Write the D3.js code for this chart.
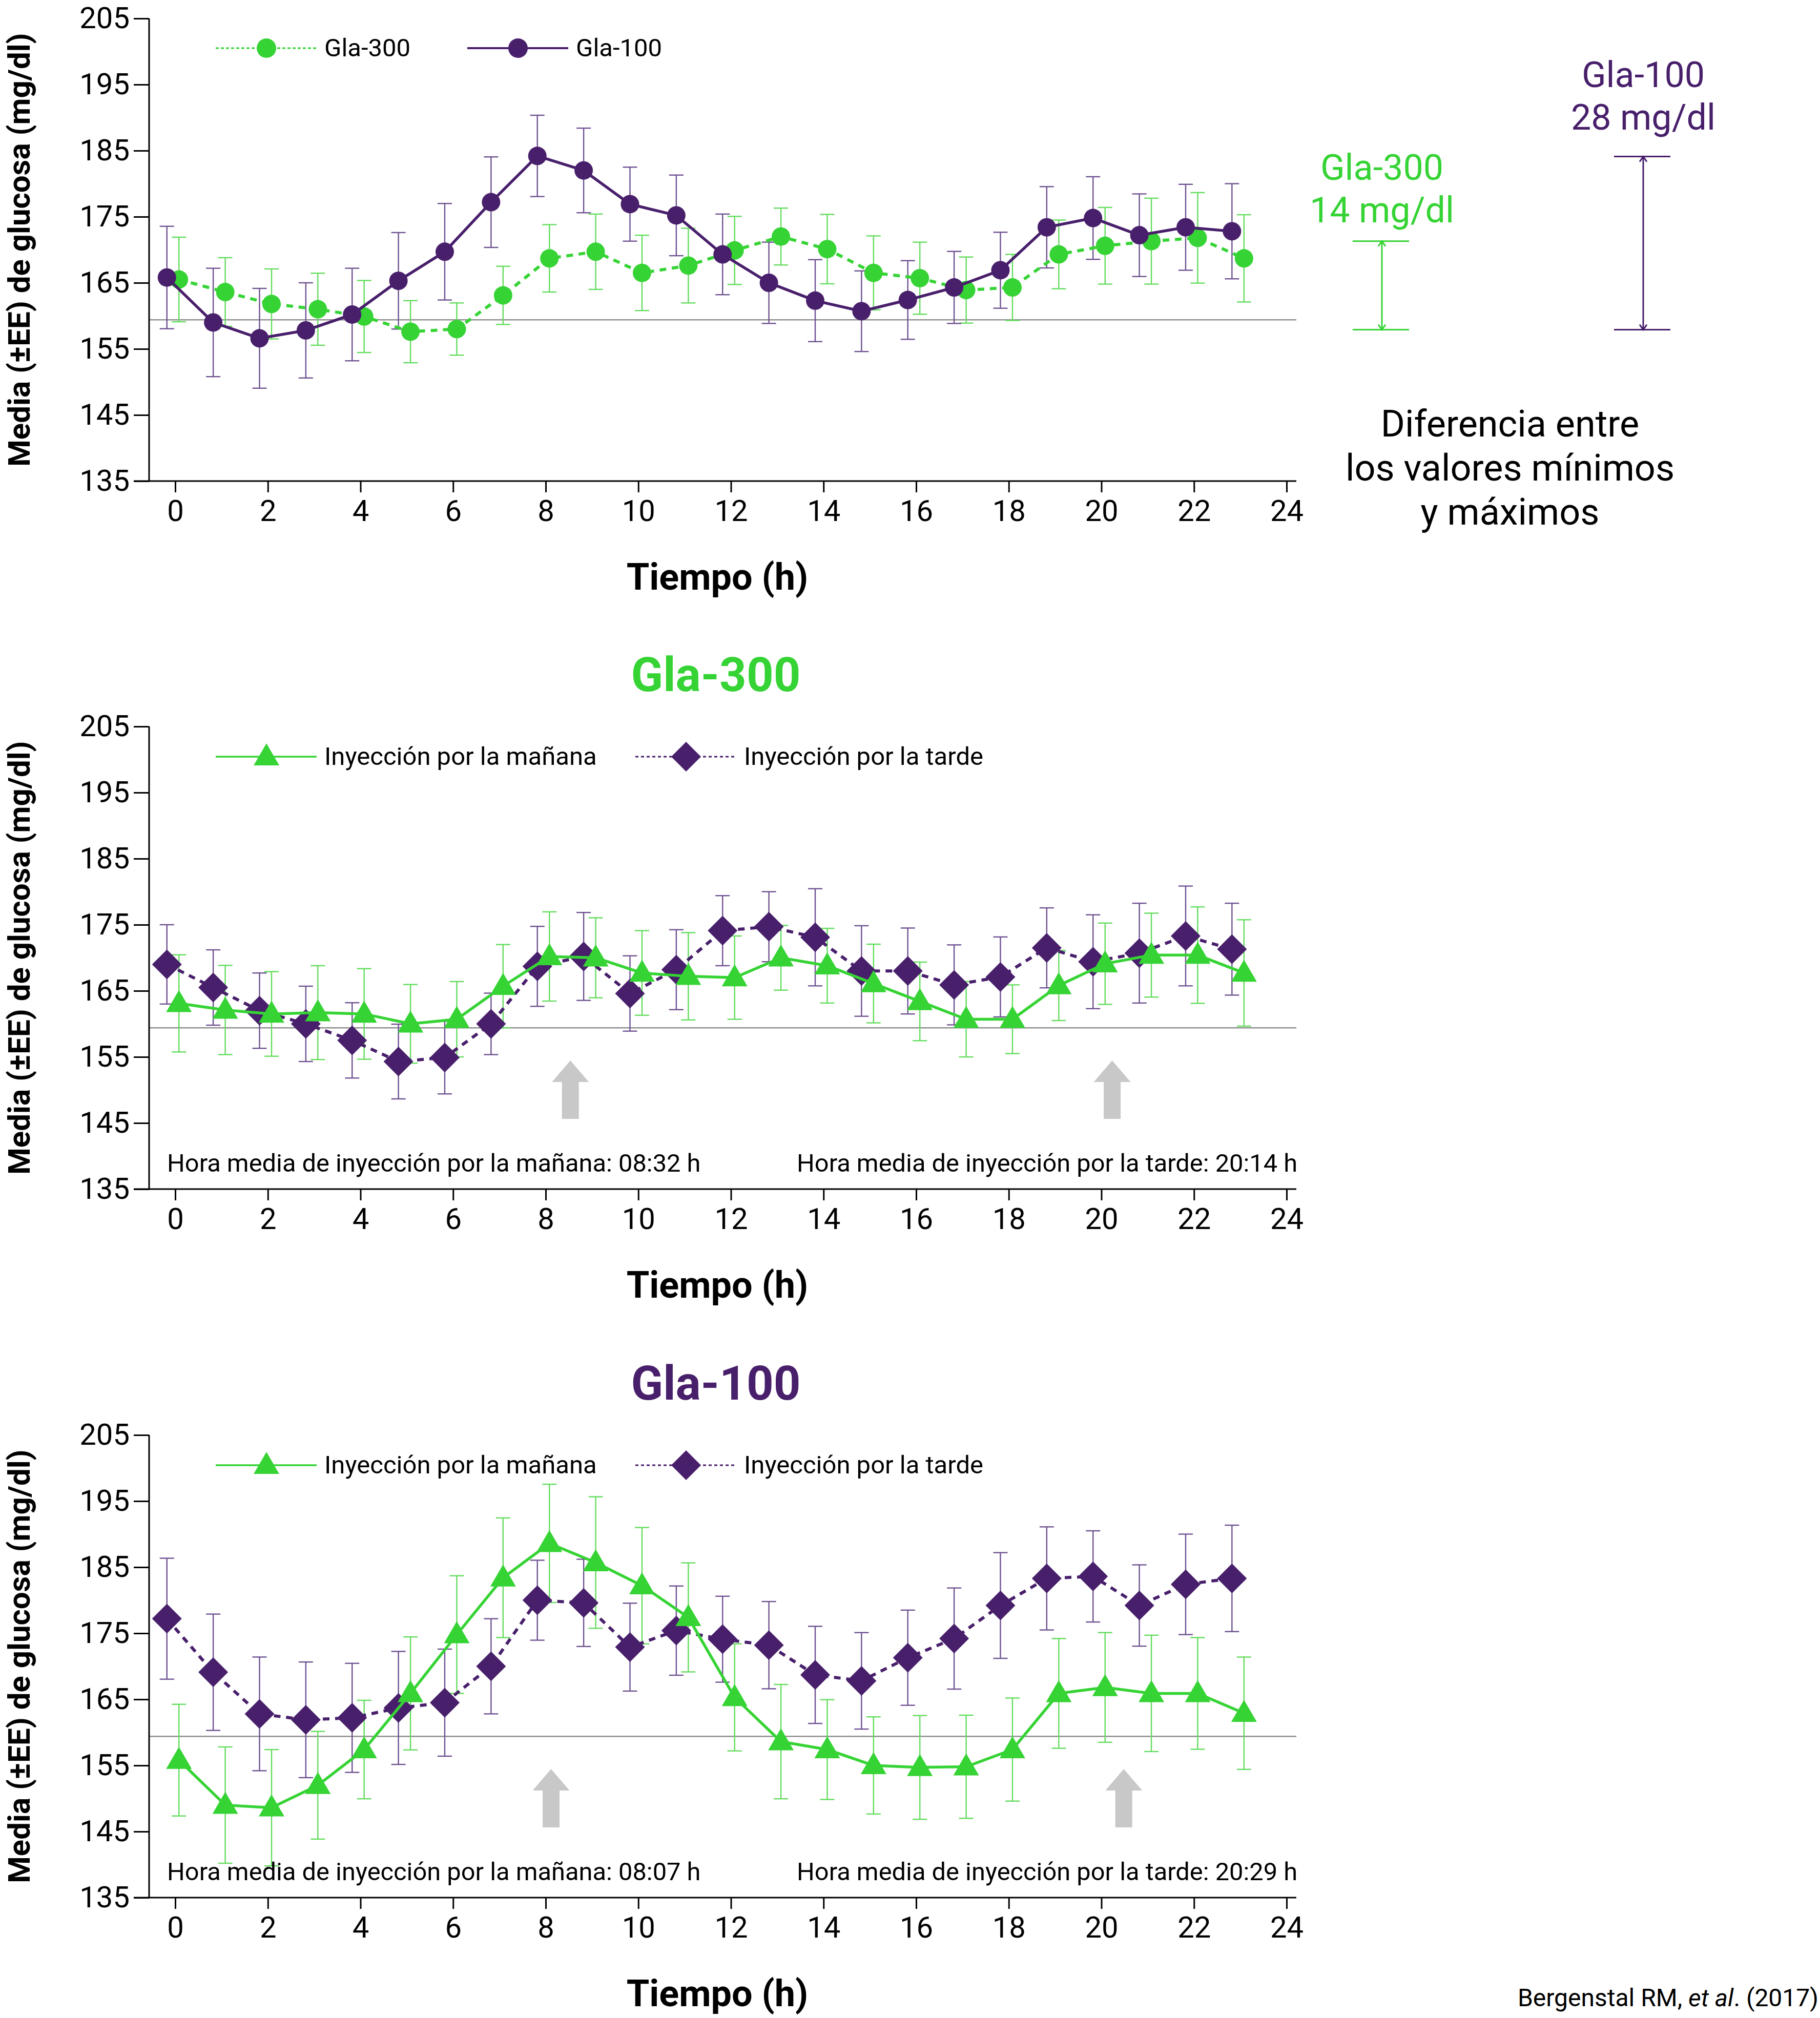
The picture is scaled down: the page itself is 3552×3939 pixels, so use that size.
<!DOCTYPE html>
<html>
<head>
<meta charset="utf-8">
<script src="https://cdn.jsdelivr.net/npm/d3@7"></script>
<style>
  body { margin: 0; background: #fff; }
  text { font-family: Roboto, "Open Sans", sans-serif; }
</style>
</head>
<body>
<div class="vis"></div>
<script>
// --- data ---
const hours = [0, 1, 2, 3, 4, 5, 6, 7, 8, 9, 10, 11, 12, 13, 14, 15, 16, 17, 18, 19, 20, 21, 22, 23];
const xTicks = [0, 2, 4, 6, 8, 10, 12, 14, 16, 18, 20, 22, 24];
const yTicks = [135, 145, 155, 165, 175, 185, 195, 205];
const refLine = 159.4;

// panel 1: Gla-300 vs Gla-100
const gla300Mean = [165.5, 163.6, 161.8, 161.0, 159.9, 157.6, 158.0, 163.1, 168.7, 169.7, 166.5, 167.6, 169.9, 172.0, 170.1, 166.5, 165.7, 163.9, 164.3, 169.3, 170.6, 171.3, 171.8, 168.7];
const gla300Se = [6.4, 5.2, 5.3, 5.45, 5.45, 4.7, 3.95, 4.4, 5.1, 5.7, 5.7, 5.65, 5.15, 4.3, 5.25, 5.6, 5.45, 5.0, 5.0, 5.2, 5.8, 6.5, 6.85, 6.6];
const gla100Mean = [165.8, 159.0, 156.6, 157.8, 160.2, 165.3, 169.7, 177.2, 184.2, 182.0, 176.9, 175.2, 169.3, 165.0, 162.3, 160.7, 162.4, 164.3, 166.9, 173.4, 174.8, 172.2, 173.4, 172.8];
const gla100Se = [7.75, 8.2, 7.55, 7.2, 7.0, 7.3, 7.3, 6.85, 6.15, 6.4, 5.6, 6.1, 6.1, 6.15, 6.2, 6.1, 5.95, 5.45, 5.75, 6.15, 6.25, 6.25, 6.5, 7.2];

// panel 2: Gla-300, morning vs evening injection
const g300MorningMean = [163.1, 162.1, 161.5, 161.7, 161.5, 160.0, 160.7, 165.7, 170.2, 170.0, 167.7, 167.2, 167.0, 170.0, 168.8, 166.1, 163.4, 160.7, 160.7, 165.8, 169.1, 170.4, 170.4, 167.7];
const g300MorningSe = [7.35, 6.75, 6.4, 7.1, 6.85, 5.95, 5.7, 6.3, 6.75, 6.05, 6.4, 6.6, 6.3, 4.9, 5.65, 5.95, 5.95, 5.7, 5.2, 5.3, 6.15, 6.35, 7.3, 8.05];
const g300EveningMean = [169.0, 165.5, 162.0, 160.0, 157.5, 154.3, 154.9, 160.0, 168.7, 170.2, 164.6, 168.2, 174.1, 174.7, 173.1, 168.0, 168.0, 165.9, 167.1, 171.5, 169.4, 170.7, 173.3, 171.3];
const g300EveningSe = [6.0, 5.7, 5.7, 5.7, 5.7, 5.65, 5.5, 4.65, 6.05, 6.65, 5.7, 6.05, 5.3, 5.3, 7.35, 6.85, 6.5, 6.05, 6.05, 6.05, 7.1, 7.55, 7.55, 6.95];

// panel 3: Gla-100, morning vs evening injection
const g100MorningMean = [155.8, 149.0, 148.6, 152.0, 157.4, 165.9, 174.8, 183.4, 188.6, 185.7, 182.2, 177.4, 165.3, 158.6, 157.4, 155.0, 154.7, 154.8, 157.4, 165.9, 166.8, 165.9, 165.9, 162.9];
const g100MorningSe = [8.45, 8.8, 8.8, 8.15, 7.45, 8.55, 8.9, 9.05, 8.95, 9.95, 8.8, 8.25, 8.1, 8.65, 7.55, 7.35, 7.85, 7.8, 7.8, 8.3, 8.3, 8.8, 8.45, 8.5];
const g100EveningMean = [177.2, 169.1, 162.8, 161.9, 162.2, 163.7, 164.5, 170.0, 180.0, 179.6, 172.9, 175.4, 174.1, 173.2, 168.7, 167.8, 171.3, 174.2, 179.2, 183.3, 183.6, 179.2, 182.4, 183.3];
const g100EveningSe = [9.15, 8.8, 8.6, 8.75, 8.25, 8.55, 8.1, 7.2, 6.05, 6.6, 6.65, 6.75, 6.5, 6.6, 7.35, 7.3, 7.2, 7.65, 8.0, 7.8, 6.9, 6.15, 7.6, 8.05];

// mean injection times (panel 2, panel 3)
const injMorning = ["08:32", "08:07"];
const injEvening = ["20:14", "20:29"];

// min-max difference brackets (panel 1 scale)
const diffLabels = ["Gla-300", "Gla-100"];
const diffValues = ["14 mg/dl", "28 mg/dl"];
const diffRanges = [[157.9, 171.3], [157.9, 184.1]];

// --- styling ---
const green = "#36d335", greenBar = "#62dc5c";
const purple = "#481f6b", purpleBar = "#6d5090";
const W = 3552, H = 3939;
const panelTops = [36, 1418, 2801];
const plotH = 903;
const axisLeftX = 291, axisRightX = 2530;

const svg = d3.select('.vis').append('svg')
    .attr('width', W).attr('height', H)
    .style('display', 'block');
svg.append('rect').attr('width', W).attr('height', H).attr('fill', '#fff');

const x = d3.scaleLinear().domain([0, 24]).range([342, 2511]);

const toHour = s => +s.split(':')[0] + (+s.split(':')[1]) / 60;

function drawAxes(top) {
    const y = d3.scaleLinear().domain([135, 205]).range([top + plotH, top]);
    const g = svg.append('g');

    // reference line
    g.append('line')
        .attr('x1', axisLeftX).attr('x2', axisRightX)
        .attr('y1', y(refLine)).attr('y2', y(refLine))
        .attr('stroke', '#8e8e8e').attr('stroke-width', 2.5);

    let yAxis = g.append('g')
        .attr('transform', 'translate(' + axisLeftX + ',0)')
        .call(d3.axisLeft(y).tickValues(yTicks).tickSize(30).tickPadding(8));
    yAxis.select('.domain').remove();
    yAxis.selectAll('line').attr('stroke', '#000').attr('stroke-width', 3);
    yAxis.selectAll('text')
        .attr('font-size', 58).attr('font-family', 'Roboto').attr('fill', '#000');
    yAxis.append('line')
        .attr('y1', top).attr('y2', top + plotH)
        .attr('stroke', '#000').attr('stroke-width', 3);

    let xAxis = g.append('g')
        .attr('transform', 'translate(0,' + (top + plotH) + ')')
        .call(d3.axisBottom(x).tickValues(xTicks).tickSize(22));
    xAxis.select('.domain').remove();
    xAxis.selectAll('line').attr('stroke', '#000').attr('stroke-width', 3);
    xAxis.selectAll('text')
        .attr('dy', null).attr('y', 78)
        .attr('font-size', 58).attr('font-family', 'Roboto').attr('fill', '#000');
    xAxis.append('line')
        .attr('x1', axisLeftX - 30).attr('x2', axisRightX)
        .attr('stroke', '#000').attr('stroke-width', 3);

    // axis titles
    g.append('text')
        .attr('x', 1400).attr('y', top + plotH + 212)
        .attr('text-anchor', 'middle')
        .attr('font-size', 72).attr('font-weight', 'bold')
        .text('Tiempo (h)');
    g.append('text')
        .attr('transform', 'translate(58,' + (top + plotH / 2) + ') rotate(-90)')
        .attr('text-anchor', 'middle')
        .attr('font-size', 60).attr('font-weight', 'bold')
        .text('Media (±EE) de glucosa (mg/dl)');
    return y;
}

function drawErrorBars(y, mean, se, off, color) {
    const pts = hours.map((h, i) => ({ h: h + off, m: mean[i], s: se[i] }));
    const g = svg.append('g').attr('stroke', color).attr('stroke-width', 2.4);
    g.selectAll('.v').data(pts).enter().append('line')
        .attr('x1', d => x(d.h)).attr('x2', d => x(d.h))
        .attr('y1', d => y(d.m + d.s)).attr('y2', d => y(d.m - d.s));
    g.selectAll('.t').data(pts).enter().append('line')
        .attr('x1', d => x(d.h) - 14).attr('x2', d => x(d.h) + 14)
        .attr('y1', d => y(d.m + d.s)).attr('y2', d => y(d.m + d.s));
    g.selectAll('.b').data(pts).enter().append('line')
        .attr('x1', d => x(d.h) - 14).attr('x2', d => x(d.h) + 14)
        .attr('y1', d => y(d.m - d.s)).attr('y2', d => y(d.m - d.s));
}

function markerPath(shape) {
    if (shape === 'triangle') return 'M0,-26L25,17L-25,17Z';
    if (shape === 'diamond') return 'M0,-29L29,0L0,29L-29,0Z';
    return null;
}

function drawSeries(y, mean, off, color, dash, shape) {
    const pts = hours.map((h, i) => ({ h: h + off, m: mean[i] }));
    const line = d3.line().x(d => x(d.h)).y(d => y(d.m));
    svg.append('path')
        .datum(pts)
        .attr('d', line)
        .attr('fill', 'none')
        .attr('stroke', color)
        .attr('stroke-width', dash ? 6 : 5.5)
        .attr('stroke-dasharray', dash);
    if (shape === 'circle') {
        svg.append('g').selectAll('circle').data(pts).enter().append('circle')
            .attr('cx', d => x(d.h)).attr('cy', d => y(d.m))
            .attr('r', 18).attr('fill', color);
    } else {
        svg.append('g').selectAll('path').data(pts).enter().append('path')
            .attr('d', markerPath(shape))
            .attr('transform', d => 'translate(' + x(d.h) + ',' + y(d.m) + ')')
            .attr('fill', color);
    }
}

function legendItem(x0, yc, color, dash, width, shape, label) {
    const g = svg.append('g');
    g.append('line')
        .attr('x1', x0).attr('x2', x0 + 197)
        .attr('y1', yc).attr('y2', yc)
        .attr('stroke', color).attr('stroke-width', width)
        .attr('stroke-dasharray', dash);
    if (shape === 'circle') {
        g.append('circle').attr('cx', x0 + 99).attr('cy', yc).attr('r', 19).attr('fill', color);
    } else {
        g.append('path').attr('d', markerPath(shape))
            .attr('transform', 'translate(' + (x0 + 99) + ',' + yc + ')')
            .attr('fill', color);
    }
    g.append('text')
        .attr('x', x0 + 212).attr('y', yc + 16)
        .attr('font-size', 49)
        .text(label);
}

function arrow(hour, tipY) {
    const cx = x(hour);
    const p = d3.path();
    p.moveTo(cx, tipY);
    p.lineTo(cx + 36, tipY + 42);
    p.lineTo(cx + 16.5, tipY + 42);
    p.lineTo(cx + 16.5, tipY + 114);
    p.lineTo(cx - 16.5, tipY + 114);
    p.lineTo(cx - 16.5, tipY + 42);
    p.lineTo(cx - 36, tipY + 42);
    p.closePath();
    svg.append('path').attr('d', p.toString()).attr('fill', '#c8c8c8');
}

// ---------- panel 1 ----------
const y1 = drawAxes(panelTops[0]);
drawErrorBars(y1, gla300Mean, gla300Se, 0.08, greenBar);
drawErrorBars(y1, gla100Mean, gla100Se, -0.18, purpleBar);
drawSeries(y1, gla300Mean, 0.08, green, '13,11', 'circle');
drawSeries(y1, gla100Mean, -0.18, purple, null, 'circle');
legendItem(421, panelTops[0] + 58, green, '6,4', 3, 'circle', 'Gla-300');
legendItem(912, panelTops[0] + 58, purple, null, 4, 'circle', 'Gla-100');

// min-max difference annotation
const bracketX = [2697, 3207];
const bracketColors = [green, purple];
const labelBase = [351, 170];
diffRanges.forEach((r, i) => {
    const g = svg.append('g').attr('stroke', bracketColors[i]).attr('stroke-width', 3).attr('fill', 'none');
    const cx = bracketX[i];
    const yTop = y1(r[1]), yBot = y1(r[0]);
    g.append('line').attr('x1', cx - 57).attr('x2', cx + 53).attr('y1', yTop).attr('y2', yTop);
    g.append('line').attr('x1', cx - 57).attr('x2', cx + 53).attr('y1', yBot).attr('y2', yBot);
    g.append('line').attr('x1', cx).attr('x2', cx).attr('y1', yTop).attr('y2', yBot);
    g.append('path').attr('d', 'M' + (cx - 7) + ',' + (yTop + 10) + 'L' + cx + ',' + yTop + 'L' + (cx + 7) + ',' + (yTop + 10));
    g.append('path').attr('d', 'M' + (cx - 7) + ',' + (yBot - 10) + 'L' + cx + ',' + yBot + 'L' + (cx + 7) + ',' + (yBot - 10));
    svg.append('text')
        .attr('x', cx).attr('y', labelBase[i])
        .attr('text-anchor', 'middle').attr('font-size', 70)
        .attr('fill', bracketColors[i])
        .text(diffLabels[i]);
    svg.append('text')
        .attr('x', cx).attr('y', labelBase[i] + 83)
        .attr('text-anchor', 'middle').attr('font-size', 70)
        .attr('fill', bracketColors[i])
        .text(diffValues[i]);
});
const diffText = ['Diferencia entre', 'los valores mínimos', 'y máximos'];
svg.append('g').selectAll('text').data(diffText).enter().append('text')
    .attr('x', 2947).attr('y', (d, i) => 852 + i * 86)
    .attr('text-anchor', 'middle').attr('font-size', 72)
    .text(d => d);

// ---------- panels 2 and 3 ----------
const subPanels = [
    { title: 'Gla-300', color: green, mm: g300MorningMean, ms: g300MorningSe, em: g300EveningMean, es: g300EveningSe },
    { title: 'Gla-100', color: purple, mm: g100MorningMean, ms: g100MorningSe, em: g100EveningMean, es: g100EveningSe }
];

subPanels.forEach((p, k) => {
    const top = panelTops[k + 1];
    const y = drawAxes(top);
    svg.append('text')
        .attr('x', 1397).attr('y', top - 69)
        .attr('text-anchor', 'middle')
        .attr('font-size', 92).attr('font-weight', 'bold')
        .attr('fill', p.color)
        .text(p.title);

    arrow(toHour(injMorning[k]), top + 652);
    arrow(toHour(injEvening[k]), top + 652);

    drawErrorBars(y, p.em, p.es, -0.18, purpleBar);
    drawErrorBars(y, p.mm, p.ms, 0.08, greenBar);
    drawSeries(y, p.em, -0.18, purple, '13,11', 'diamond');
    drawSeries(y, p.mm, 0.08, green, null, 'triangle');

    legendItem(421, top + 59, green, null, 3.5, 'triangle', 'Inyección por la mañana');
    legendItem(1240, top + 59, purple, '6,5', 3, 'diamond', 'Inyección por la tarde');

    svg.append('text')
        .attr('x', 326).attr('y', top + 869)
        .attr('font-size', 48.8)
        .text('Hora media de inyección por la mañana: ' + injMorning[k] + ' h');
    svg.append('text')
        .attr('x', 1555).attr('y', top + 869)
        .attr('font-size', 48.8)
        .text('Hora media de inyección por la tarde: ' + injEvening[k] + ' h');
});

// citation
const cite = svg.append('text')
    .attr('x', 3549).attr('y', 3916)
    .attr('text-anchor', 'end')
    .attr('font-size', 48);
cite.append('tspan').text('Bergenstal RM, ');
cite.append('tspan').attr('font-style', 'italic').text('et al');
cite.append('tspan').text('. (2017)');
</script>
</body>
</html>
